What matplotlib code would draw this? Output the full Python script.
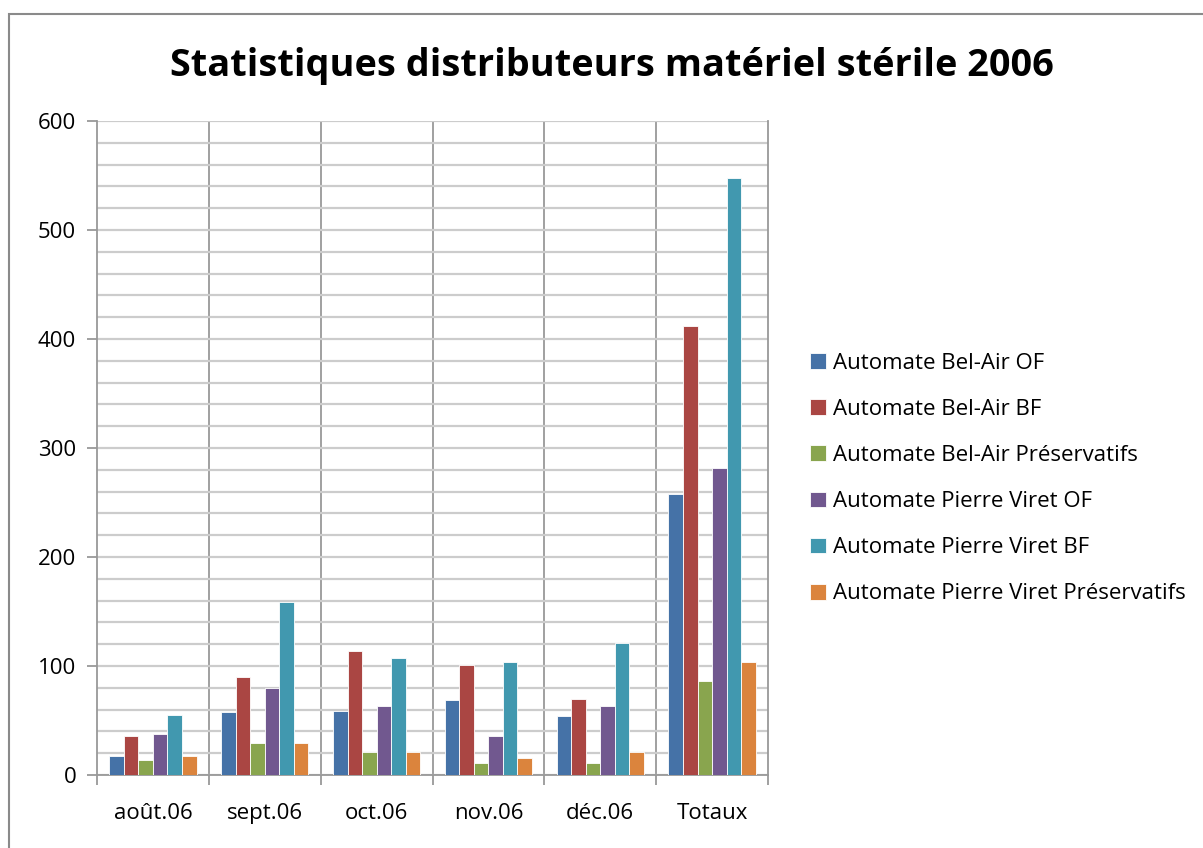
import matplotlib
matplotlib.use("Agg")
import matplotlib.pyplot as plt
import numpy as np
from matplotlib.patches import Rectangle

categories = ["août.06", "sept.06", "oct.06", "nov.06", "déc.06", "Totaux"]
series_names = ["Automate Bel-Air OF", "Automate Bel-Air BF", "Automate Bel-Air Préservatifs",
                "Automate Pierre Viret OF", "Automate Pierre Viret BF", "Automate Pierre Viret Préservatifs"]
bel_air_of = [17, 58, 59, 69, 54, 258]
bel_air_bf = [36, 90, 114, 101, 70, 412]
bel_air_pres = [14, 29, 21, 11, 11, 86]
pierre_viret_of = [38, 80, 63, 36, 63, 282]
pierre_viret_bf = [55, 159, 107, 104, 121, 548]
pierre_viret_pres = [17, 29, 21, 16, 21, 104]
colors = ["#4572A7", "#AA4643", "#89A54E", "#71588F", "#4198AF", "#DB843D"]

plt.rcParams['font.family'] = ['Open Sans', 'DejaVu Sans']

W, H = 1203, 848
fig = plt.figure(figsize=(W / 100, H / 100), dpi=100)
fig.patch.set_facecolor("white")

# outer chart border
fig.patches.append(Rectangle((9 / W, -0.1), 1.2, (H - 14) / H + 0.1, transform=fig.transFigure,
                             fill=False, edgecolor="#8a8a8a", linewidth=1.5))

left, right, top, bottom = 97, 768, 121, 775
ax = fig.add_axes([left / W, 1 - bottom / H, (right - left) / W, (bottom - top) / H])

data = [bel_air_of, bel_air_bf, bel_air_pres, pierre_viret_of, pierre_viret_bf, pierre_viret_pres]
n = len(data)
x = np.arange(len(categories))
bw = 0.13
for i, (vals, c, name) in enumerate(zip(data, colors, series_names)):
    ax.bar(x + (i - (n - 1) / 2) * bw, vals, width=bw, color=c, edgecolor="#ffffff",
           linewidth=0.6, label=name, zorder=3)

ax.set_xlim(-0.5, len(categories) - 0.5)
ax.set_ylim(0, 600)
ax.set_yticks(np.arange(0, 601, 100))
ax.set_yticks(np.arange(0, 601, 20), minor=True)
ax.yaxis.grid(True, which="both", color="#cccccc", linewidth=1.6, zorder=0)
for b in np.arange(0.5, len(categories) - 0.5, 1):
    ax.axvline(b, color="#999999", linewidth=1.3, zorder=1)

ax.set_xticks(x)
ax.set_xticklabels(categories, fontsize=16)
ax.set_xticks(np.arange(-0.5, len(categories), 1), minor=True)
ax.tick_params(axis="x", which="major", length=0, pad=20)
ax.tick_params(axis="x", which="minor", length=7, color="#999999", width=1.3, direction="out")
ax.tick_params(axis="y", which="major", length=7, color="#999999", width=1.3, labelsize=16, pad=8)
ax.tick_params(axis="y", which="minor", length=0)
ax.spines["top"].set_visible(False)
for s in ["right", "left", "bottom"]:
    ax.spines[s].set_color("#999999")
    ax.spines[s].set_linewidth(1.3)

fig.text(612 / W, 1 - 66 / H, "Statistiques distributeurs matériel stérile 2006",
         ha="center", va="center", fontsize=27.3, fontweight="bold")

leg = fig.legend(loc="upper left", bbox_to_anchor=(801 / W, 1 - 344 / H), frameon=False,
                 fontsize=16, handlelength=0.72, handleheight=0.72, handletextpad=0.3,
                 labelspacing=1.13, borderaxespad=0)

fig.savefig("out.png", dpi=100, facecolor="white")
